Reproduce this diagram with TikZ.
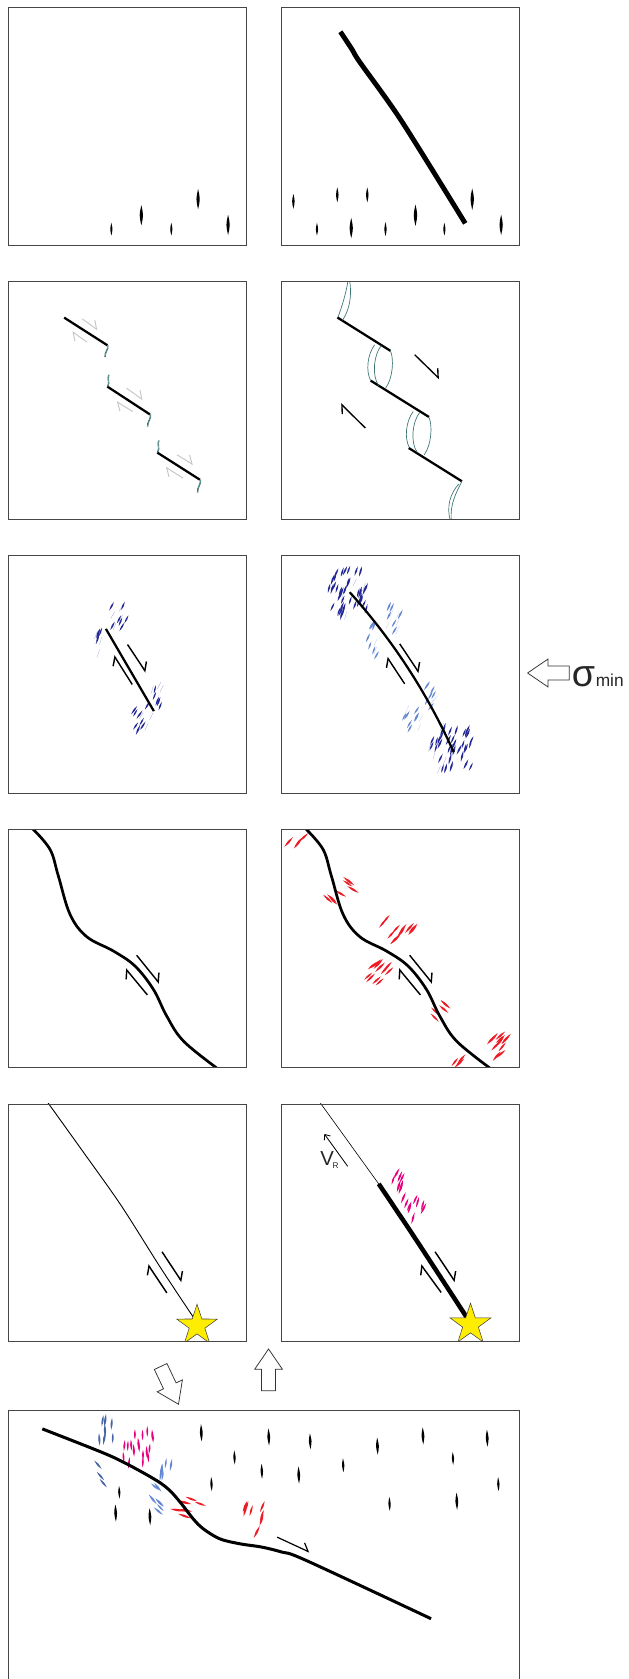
\documentclass[tikz,border=0pt]{standalone}
\usepackage{fontspec}
\setmainfont{Liberation Sans}
\usetikzlibrary{arrows.meta,shapes.geometric}

\definecolor{frame}{RGB}{70,70,70}
\definecolor{bridgeteal}{RGB}{60,115,115}
\definecolor{veinblue}{RGB}{35,40,150}
\definecolor{veinlight}{RGB}{100,135,210}
\definecolor{veinslate}{RGB}{70,100,165}
\definecolor{veinred}{RGB}{236,28,36}
\definecolor{veinpink}{RGB}{230,0,126}
\definecolor{quake}{RGB}{255,237,0}

\tikzset{
  panel/.style={draw=frame, line width=1.2pt},
  fault/.style={line width=3.2pt, line join=round},
  shear/.style={line width=1.9pt, -{Straight Barb[harpoon, length=9pt, width=17pt]}},
  greyshear/.style={shear, draw=black!22, line width=1.3pt},
  bridge/.style={draw=bridgeteal, line width=0.9pt},
  blockarrow/.style={draw=black!80, fill=white, line width=1pt, line join=miter},
  epicentre/.style={star, star points=5, star point ratio=2.6, draw=black!75, fill=quake,
    line width=0.7pt, minimum size=20mm, inner sep=0pt},
}

% one lens shaped vein: [colour]{x}{y}{tilt from vertical}{length}
\newcommand{\vein}[5][black]{%
  \fill[#1, shift={(#2,#3)}, rotate=0-(#4)] (0,-#5/2) .. controls ({0.1*#5+0.15},0) .. (0,#5/2)
    .. controls ({-0.1*#5-0.15},0) .. cycle;}

% a patch of veins: [colour]{cx}{cy}{rx}{ry}{tilt}{count}{length}
\newcommand{\veinfield}[8][black]{%
  \foreach \k in {1,...,#7}{
    \pgfmathsetmacro{\fa}{360*rnd}
    \pgfmathsetmacro{\fr}{sqrt(rnd)}
    \pgfmathsetmacro{\fx}{#2+#4*\fr*cos(\fa)}
    \pgfmathsetmacro{\fy}{#3+#5*\fr*sin(\fa)}
    \pgfmathsetmacro{\ft}{#6+7*rand}
    \pgfmathsetmacro{\fl}{#8+3*rnd}
    \vein[#1]{\fx}{\fy}{\ft}{\fl}
  }}

\newcommand{\blockarrow}[3]{%
  \draw[blockarrow, shift={(#1,#2)}, rotate=#3] (0,0) -- (-19,13) -- (-19,6.5) -- (-39,6.5)
    -- (-39,-6.5) -- (-19,-6.5) -- (-19,-13) -- cycle;}

\begin{document}
\begin{tikzpicture}[x=0.5mm, y=-0.5mm]
\useasboundingbox (0,0) rectangle (587,1568);
\clip (0,0) rectangle (587,1568);
\pgfmathsetseed{11}

% ---- row 1: intact rock
\begin{scope}[shift={(8,7)}]
  \foreach \x/\y/\l in {96/207/12, 124/194/19, 152/207/12, 177/179/19, 205/203/19}
    {\vein{\x}{\y}{0}{\l}}
\end{scope}
\begin{scope}[shift={(263,7)}]
  \clip (0,0) rectangle (222,222);
  \foreach \x/\y/\l in {11/181/14, 52/175/14, 80/175/14, 178/179/20, 33/207/12,
                        65/206/19, 97/207/13, 125/194/20, 152/207/12, 205/203/19}
    {\vein{\x}{\y}{0}{\l}}
  \draw[fault, line width=6.5pt] plot[smooth, tension=0.5] coordinates
    {(54.9,22.7) (66,39.5) (73,51) (112,106) (171.5,201.6)};
\end{scope}

% ---- row 2: en echelon segments
\begin{scope}[shift={(8,263)}]
  \foreach \a/\b/\c/\d in {51.9/33.6/92.2/59.4, 92.2/98/132/124, 138.8/159.6/178.7/185}
    {\draw[fault, line width=3pt] (\a,\b) -- (\c,\d);}
  \foreach \s in {0,1}{
    \draw[bridge, xshift=\s] (92.2,59.4) .. controls (93.5,63) and (89,66) .. (89.8,70.6);
    \draw[bridge, xshift=\s] (93.3,87) .. controls (91.5,91) and (94.5,94) .. (92.2,98);
    \draw[bridge, xshift=\s] (132,124) .. controls (133.3,128) and (128.8,131) .. (129.5,135.5);
    \draw[bridge, xshift=\s] (140,148.4) .. controls (138.2,152) and (141.2,155) .. (138.8,159.6);
    \draw[bridge, xshift=\s] (178.7,185) .. controls (180,189) and (175.5,192) .. (176.2,197);
  }
  \draw[greyshear] (68.8,34.8) -- (83.1,45.1);
  \draw[greyshear] (73.4,56.6) -- (59.4,46.6);
  \draw[greyshear] (110.2,99.5) -- (125.3,110.4);
  \draw[greyshear] (115.9,121.3) -- (100.8,112);
  \draw[greyshear] (157.3,161.7) -- (172.3,171);
  \draw[greyshear] (162.9,183.5) -- (146.7,173.3);
\end{scope}
\begin{scope}[shift={(263,263)}]
  \clip (0,0) rectangle (222,222);
  \draw[fault, line width=3pt] (52.1,33.5) -- (101.6,64.6);
  \draw[fault, line width=3pt] (83.2,92.5) -- (137.6,126.4);
  \draw[fault, line width=3pt] (118.7,155.4) -- (168.4,186.5);
  \draw[bridge] (52.7,33.1) .. controls (56,24) and (60,12) .. (62,-1);
  \draw[bridge] (56.8,36.2) .. controls (63,27) and (66,14) .. (63.5,-1);
  \foreach \dx/\dy in {0/0, 36/62.3}{
    \begin{scope}[shift={(\dx,\dy)}]
      \draw[bridge] (86.9,59) .. controls (80,68) and (78.5,84) .. (83.2,92.5);
      \draw[bridge] (93.2,59.6) .. controls (86,68) and (84,88) .. (90.7,97.2);
      \draw[bridge] (101.6,64.5) .. controls (105,72) and (104,90) .. (97.2,99.4);
    \end{scope}
  }
  \draw[bridge] (168.4,186.5) .. controls (163,197) and (157,208) .. (158.5,223);
  \draw[bridge] (165.5,189) .. controls (157,198) and (154,211) .. (157.5,223);
  \draw[shear, line width=1.8pt] (124.3,68.3) -- (147.3,90.7);
  \draw[shear, line width=1.8pt] (78.2,136.7) -- (55.2,114);
\end{scope}

% ---- row 3: process zones at the tips
\begin{scope}[shift={(8,519)}]
  \clip (0,0) rectangle (222,222);
  \veinfield[veinblue]{102}{57}{11}{12}{25}{12}{7}
  \veinfield[veinblue]{85}{82}{5}{14}{15}{8}{7}
  \veinfield[veinblue]{140}{130}{7}{14}{20}{8}{7}
  \veinfield[veinblue]{123}{150}{11}{13}{30}{12}{7}
  \draw[fault, line width=3pt] (90.9,68.3) -- (135.7,145.1);
  \draw[shear] (111.1,82.9) -- (128.2,108.7);
  \draw[shear] (115.5,120.2) -- (98.4,93.2);
\end{scope}
\begin{scope}[shift={(263,519)}]
  \clip (0,0) rectangle (222,222);
  \veinfield[veinblue]{63}{35}{22}{24}{20}{46}{7.5}
  \veinfield[veinblue]{160}{181}{23}{24}{20}{46}{7.5}
  \veinfield[veinlight]{102}{60}{11}{13}{25}{11}{7}
  \veinfield[veinlight]{85}{80}{6}{17}{25}{9}{7}
  \veinfield[veinlight]{139}{131}{6}{14}{30}{8}{7}
  \veinfield[veinlight]{122}{151}{11}{12}{30}{10}{7}
  \draw[fault, line width=3pt] (63.6,34.1) .. controls (103.8,78.8) and (136.1,128.5) .. (160.7,183.4);
  \draw[shear] (110.3,82.3) -- (128.3,109.3);
  \draw[shear] (114.9,119.6) -- (98.5,94.7);
\end{scope}

% ---- row 4: bends on the grown fault
\begin{scope}[shift={(8,775)}]
  \clip (0,0) rectangle (222,222);
  \draw[fault, line width=3.6pt] plot[smooth, tension=0.6] coordinates
    {(22.5,-1) (38.7,18.2) (46.5,43.1) (57.4,78.9) (72.9,99.7) (97.8,113.1) (118,127.1)
     (135.2,148.9) (147.6,173.7) (163.2,197.1) (194.3,222.3)};
  \draw[shear] (119.6,117.1) -- (140.8,143.3);
  \draw[shear] (129.6,154.1) -- (109.3,129.6);
\end{scope}
\begin{scope}[shift={(263,775)}]
  \clip (0,0) rectangle (222,222);
  \veinfield[veinred]{14}{10}{9}{8}{45}{4}{10}
  \veinfield[veinred]{54}{58}{15}{13}{-53}{7}{10}
  \veinfield[veinred]{108}{91}{15}{13}{45}{11}{10}
  \veinfield[veinred]{88}{131}{13}{13}{45}{11}{10}
  \veinfield[veinred]{151}{174}{13}{12}{-50}{5}{10}
  \veinfield[veinred]{207}{202}{14}{14}{45}{11}{10}
  \veinfield[veinred]{170}{217}{10}{6}{45}{3}{10}
  \draw[fault, line width=3.6pt] plot[smooth, tension=0.6] coordinates
    {(22.5,-1) (38.7,18.2) (46.5,43.1) (57.4,78.9) (72.9,99.7) (97.8,113.1) (118,127.1)
     (135.2,148.9) (147.6,173.7) (163.2,197.1) (194.3,222.3)};
  \draw[shear] (119.6,117.1) -- (140.8,143.3);
  \draw[shear] (129.6,154.1) -- (109.3,129.6);
\end{scope}

% ---- row 5: rupture
\begin{scope}[shift={(8,1031)}]
  \clip (0,0) rectangle (222,222);
  \draw[line width=1.2pt] plot[smooth] coordinates
    {(36.9,-1) (67,41) (104.6,94) (142,153) (172.5,199)};
  \draw[shear] (143.3,138) -- (161.8,166);
  \draw[shear] (147.8,176.4) -- (130.2,150);
  \node[epicentre] (epiL) at (176,207) {};
\end{scope}
\begin{scope}[shift={(263,1031)}]
  \clip (0,0) rectangle (222,222);
  \veinfield[veinpink]{110}{68}{10}{11}{22}{8}{9}
  \veinfield[veinpink]{123}{93}{11}{14}{22}{9}{9}
  \draw[line width=0.8pt] (36.1,-1) .. controls (55,25) and (75,53) .. (90.7,74.6);
  \draw[fault, line width=6pt] plot[smooth] coordinates {(90.7,74.6) (126.4,128) (172.7,199)};
  \draw[shear] (143.3,138) -- (162,166);
  \draw[shear] (149,176) -- (130,150);
  \draw[line width=1.1pt, -{Straight Barb[length=6pt, width=10pt]}] (61.7,58.2) -- (39.9,28);
  \node[anchor=base west, inner sep=0pt, text=black!85] (vr) at (36,57.7)
    {\fontsize{27}{27}\selectfont V\hspace{-0.6mm}\raisebox{-1.1mm}{\fontsize{11}{11}\selectfont R}};
  \node[epicentre] (epiR) at (176.4,206) {};
\end{scope}

% ---- bottom: cross section
\begin{scope}
  \clip (8,1317) rectangle (485,1600);
  \foreach \x/\y/\l in {188/1338/16, 251/1342/16, 289.7/1346/15, 352.5/1350.5/16, 395/1341/16,
                        455/1343/16, 219/1361/13, 244.5/1374/14, 279/1377.5/16, 320.5/1368.4/13,
                        423/1362/12, 197.5/1386/13, 465.4/1386/13, 111.4/1393.6/12, 363.8/1404.5/13,
                        426.6/1402/16, 108/1413/16, 140/1416.4/16}
    {\vein{\x}{\y}{-2}{\l}}
  \veinfield[veinslate]{98}{1340}{8}{17}{3}{7}{10}
  \foreach \x/\y in {91.5/1367.9, 93.8/1378.4, 96.4/1385}
    {\vein[veinslate]{\x}{\y}{-41}{10.5}}
  \veinfield[veinpink]{127}{1350}{19}{20}{0}{18}{9}
  \veinfield[veinlight]{154}{1369}{7}{13}{5}{7}{9}
  \veinfield[veinlight]{146}{1399}{10}{14}{-45}{7}{9}
  \veinfield[veinred]{174}{1407}{18}{9}{-76}{6}{11}
  \veinfield[veinred]{235}{1417}{14}{15}{20}{8}{10}
  \draw[fault, line width=4pt] plot[smooth, tension=0.55] coordinates
    {(39.5,1334.4) (94.9,1356.2) (118.2,1367) (146.2,1382.6) (158.6,1392) (169.5,1404.4)
     (180.4,1418.4) (189.8,1427.7) (205.3,1437.1) (224,1441.7) (244.5,1444.8)
     (263.4,1449.5) (286,1457.3) (402.6,1511.7)};
  \draw[shear, line width=1.6pt] (258.8,1435.5) -- (289,1449.5);
\end{scope}

% frames
\foreach \px in {8,263}
  \foreach \py in {7,263,519,775,1031}
    {\draw[panel] (\px,\py) rectangle ++(222,222);}
\draw[panel] (8,1317) rectangle (485,1600);

% loading arrows
\blockarrow{492.7}{628.5}{180}
\blockarrow{250.8}{1259.8}{90}
\blockarrow{166.7}{1311.4}{-64.7}
\node[anchor=base west, inner sep=0pt, text=black!85] (smin) at (534,641)
  {\fontsize{50}{50}\selectfont σ\hspace{0.3mm}\fontsize{23}{23}\selectfont min};
\end{tikzpicture}
\end{document}
